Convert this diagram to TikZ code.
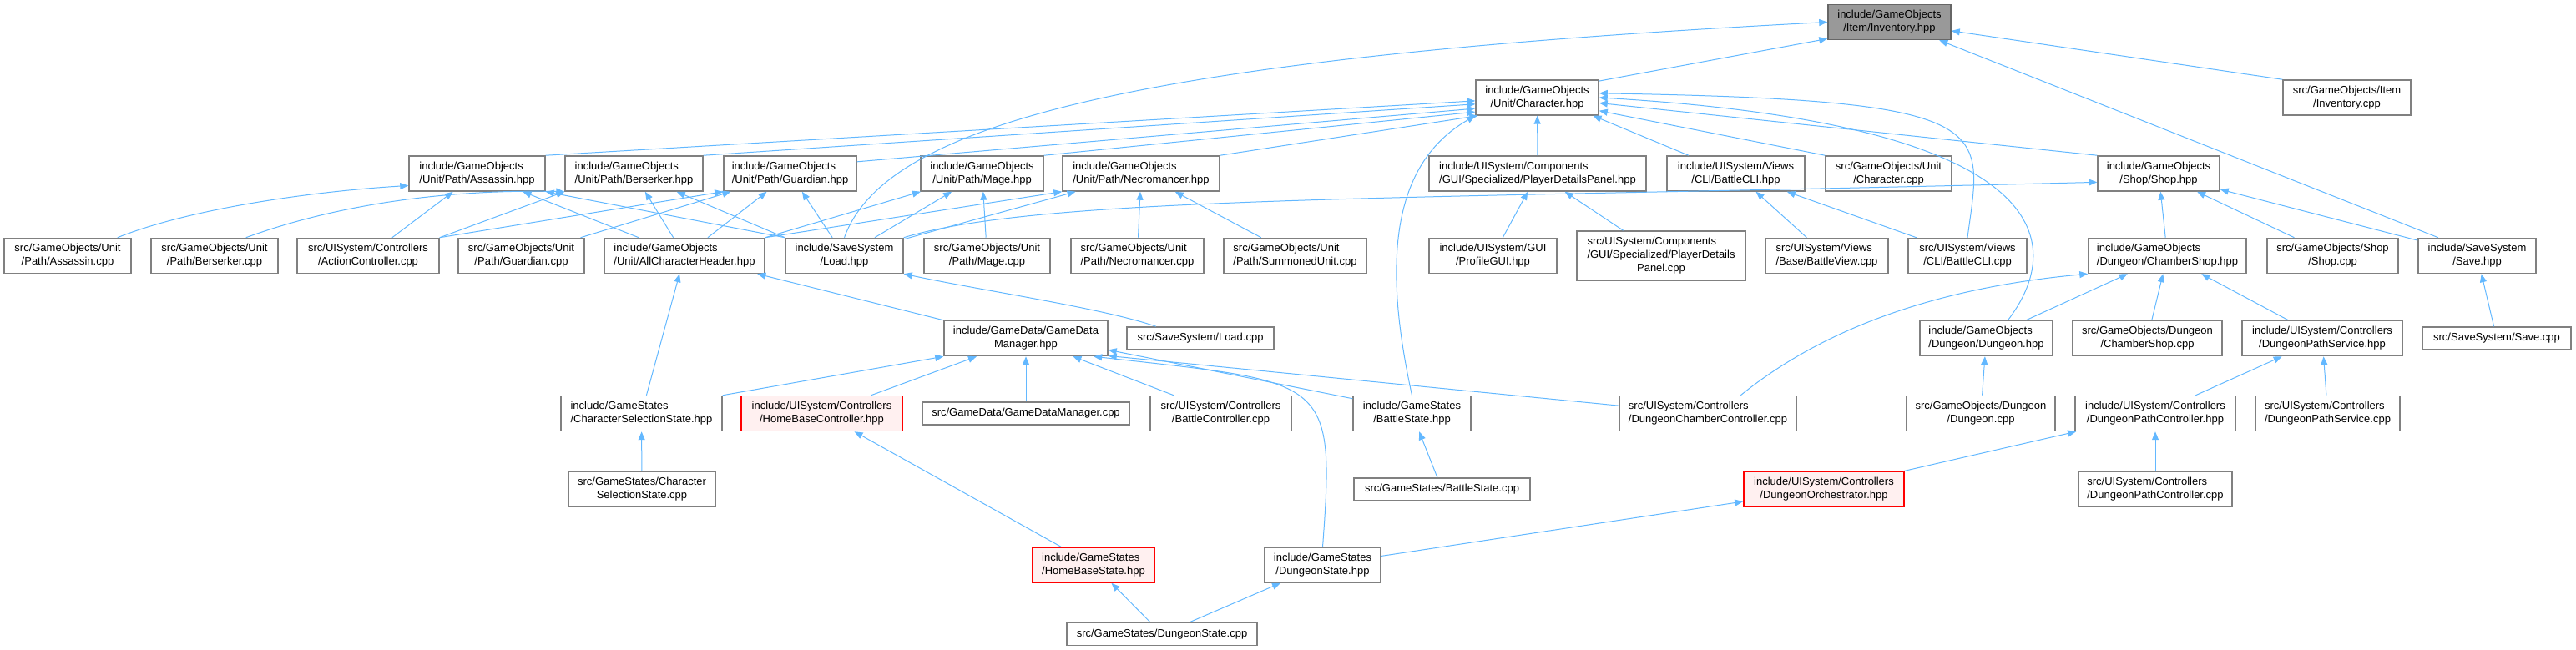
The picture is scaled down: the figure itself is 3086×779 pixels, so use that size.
\documentclass[tikz,border=0pt]{standalone}
\usepackage{fontspec}
\setmainfont{Liberation Sans}
\usetikzlibrary{arrows.meta}

\definecolor{incblue}{HTML}{63B8FF}
\definecolor{boxgray}{HTML}{808080}
\definecolor{rootgray}{HTML}{999999}
\definecolor{truncfill}{HTML}{FFF0F0}

% first lines left, last line centred
\newcommand{\two}[2]{\begin{tabular}{@{}c@{}}\multicolumn{1}{@{}l@{}}{#1}\\#2\end{tabular}}
\newcommand{\three}[3]{\begin{tabular}{@{}c@{}}\multicolumn{1}{@{}l@{}}{#1}\\\multicolumn{1}{@{}l@{}}{#2}\\#3\end{tabular}}

\tikzset{
  filebox/.style={draw=boxgray, line width=0.75pt, fill=white, inner sep=0pt,
    minimum height=21pt, font=\fontsize{6.5}{8}\selectfont},
  fw/.style={minimum width=#1*0.5pt},
  oneline/.style={minimum height=13.5pt},
  rootbox/.style={filebox, fill=rootgray, draw=black!60},
  redbox/.style={filebox, fill=truncfill, draw=red},
  inc/.style={draw=incblue, line width=0.5pt, -{Triangle[length=5pt,width=4pt]}, color=incblue}
}

\begin{document}
\begin{tikzpicture}[x=0.5pt, y=0.5pt]
  \useasboundingbox (0,0) rectangle (3086,779);

  % top
  \node[rootbox, fw=147] (inv) at (2263.5,752.5) {\two{include/GameObjects}{/Item/Inventory.hpp}};
  \node[filebox, fw=147] (chr) at (1841.5,662) {\two{include/GameObjects}{/Unit/Character.hpp}};
  \node[filebox, fw=153] (invcpp) at (2811.5,662) {\two{src/GameObjects/Item}{/Inventory.cpp}};

  % unit paths and friends
  \node[filebox, fw=163] (assh) at (571.5,571) {\two{include/GameObjects}{/Unit/Path/Assassin.hpp}};
  \node[filebox, fw=165] (bersh) at (759.5,571) {\two{include/GameObjects}{/Unit/Path/Berserker.hpp}};
  \node[filebox, fw=159] (guah) at (946.5,571) {\two{include/GameObjects}{/Unit/Path/Guardian.hpp}};
  \node[filebox, fw=147] (mageh) at (1176.5,571) {\two{include/GameObjects}{/Unit/Path/Mage.hpp}};
  \node[filebox, fw=188] (necroh) at (1367,571) {\two{include/GameObjects}{/Unit/Path/Necromancer.hpp}};
  \node[filebox, fw=260] (pdph) at (1842,571) {\two{include/UISystem/Components}{/GUI/Specialized/PlayerDetailsPanel.hpp}};
  \node[filebox, fw=165] (bclih) at (2079.5,571) {\two{include/UISystem/Views}{/CLI/BattleCLI.hpp}};
  \node[filebox, fw=151] (chrcpp) at (2262.5,571) {\two{src/GameObjects/Unit}{/Character.cpp}};
  \node[filebox, fw=146] (shoph) at (2586,571) {\two{include/GameObjects}{/Shop/Shop.hpp}};

  \node[filebox, fw=152] (asscpp) at (81,472.5) {\two{src/GameObjects/Unit}{/Path/Assassin.cpp}};
  \node[filebox, fw=152] (berscpp) at (257,472.5) {\two{src/GameObjects/Unit}{/Path/Berserker.cpp}};
  \node[filebox, fw=170] (actcpp) at (441,472.5) {\two{src/UISystem/Controllers}{/ActionController.cpp}};
  \node[filebox, fw=151] (guacpp) at (624.5,472.5) {\two{src/GameObjects/Unit}{/Path/Guardian.cpp}};
  \node[filebox, fw=192] (allch) at (820,472.5) {\two{include/GameObjects}{/Unit/AllCharacterHeader.hpp}};
  \node[filebox, fw=141] (loadh) at (1011.5,472.5) {\two{include/SaveSystem}{/Load.hpp}};
  \node[filebox, fw=151] (magecpp) at (1182.5,472.5) {\two{src/GameObjects/Unit}{/Path/Mage.cpp}};
  \node[filebox, fw=159] (necrocpp) at (1362.5,472.5) {\two{src/GameObjects/Unit}{/Path/Necromancer.cpp}};
  \node[filebox, fw=171] (sumcpp) at (1551.5,472.5) {\two{src/GameObjects/Unit}{/Path/SummonedUnit.cpp}};
  \node[filebox, fw=153] (profh) at (1788.5,472.5) {\two{include/UISystem/GUI}{/ProfileGUI.hpp}};
  \node[filebox, fw=202, minimum height=29.5pt] (pdpcpp) at (1990,472.5) {\three{src/UISystem/Components}{/GUI/Specialized/PlayerDetails}{Panel.cpp}};
  \node[filebox, fw=147] (bviewcpp) at (2188.5,472.5) {\two{src/UISystem/Views}{/Base/BattleView.cpp}};
  \node[filebox, fw=142] (bclicpp) at (2357,472.5) {\two{src/UISystem/Views}{/CLI/BattleCLI.cpp}};
  \node[filebox, fw=189] (chsh) at (2596.5,472.5) {\two{include/GameObjects}{/Dungeon/ChamberShop.hpp}};
  \node[filebox, fw=157] (shopcpp) at (2794.5,472.5) {\two{src/GameObjects/Shop}{/Shop.cpp}};
  \node[filebox, fw=141] (saveh) at (2967.5,472.5) {\two{include/SaveSystem}{/Save.hpp}};

  % data and dungeon
  \node[filebox, fw=196] (gdmh) at (1229,373.5) {\two{include/GameData/GameData}{Manager.hpp}};
  \node[filebox, fw=176, oneline] (loadcpp) at (1438,373.5) {src/SaveSystem/Load.cpp};
  \node[filebox, fw=159] (dungh) at (2379.5,373.5) {\two{include/GameObjects}{/Dungeon/Dungeon.hpp}};
  \node[filebox, fw=179] (chscpp) at (2572.5,373.5) {\two{src/GameObjects/Dungeon}{/ChamberShop.cpp}};
  \node[filebox, fw=192] (dpsh) at (2782,373.5) {\two{include/UISystem/Controllers}{/DungeonPathService.hpp}};
  \node[filebox, fw=178, oneline] (savecpp) at (2991,373.5) {src/SaveSystem/Save.cpp};

  \node[filebox, fw=193] (cssh) at (768.5,283.5) {\two{include/GameStates}{/CharacterSelectionState.hpp}};
  \node[redbox, fw=193] (hbch) at (984.5,283.5) {\two{include/UISystem/Controllers}{/HomeBaseController.hpp}};
  \node[filebox, fw=248, oneline] (gdmcpp) at (1229,283.5) {src/GameData/GameDataManager.cpp};
  \node[filebox, fw=169] (bctrlcpp) at (1462.5,283.5) {\two{src/UISystem/Controllers}{/BattleController.cpp}};
  \node[filebox, fw=141] (bsth) at (1691.5,283.5) {\two{include/GameStates}{/BattleState.hpp}};
  \node[filebox, fw=212] (dccc) at (2046,283.5) {\two{src/UISystem/Controllers}{/DungeonChamberController.cpp}};
  \node[filebox, fw=178] (dungcpp) at (2373,283.5) {\two{src/GameObjects/Dungeon}{/Dungeon.cpp}};
  \node[filebox, fw=192] (dpch) at (2582,283.5) {\two{include/UISystem/Controllers}{/DungeonPathController.hpp}};
  \node[filebox, fw=173] (dpscpp) at (2788.5,283.5) {\two{src/UISystem/Controllers}{/DungeonPathService.cpp}};

  \node[filebox, fw=176] (csscpp) at (769,192.5) {\two{src/GameStates/Character}{SelectionState.cpp}};
  \node[filebox, fw=211, oneline] (bstcpp) at (1727.5,192.5) {src/GameStates/BattleState.cpp};
  \node[redbox, fw=192] (dorch) at (2185,192.5) {\two{include/UISystem/Controllers}{/DungeonOrchestrator.hpp}};
  \node[filebox, fw=184] (dpccpp) at (2582,192.5) {\two{src/UISystem/Controllers}{/DungeonPathController.cpp}};

  \node[redbox, fw=146] (hbsh) at (1310,102) {\two{include/GameStates}{/HomeBaseState.hpp}};
  \node[filebox, fw=139] (dsth) at (1584.5,102) {\two{include/GameStates}{/DungeonState.hpp}};
  \node[filebox, fw=228, oneline] (dstcpp) at (1392,19) {src/GameStates/DungeonState.cpp};

  % includes of Inventory.hpp
  \draw[inc] (chr.15) -- (inv.195);
  \draw[inc] (loadh.north) .. controls (1060,629) and (1350,709) .. (inv.west);
  \draw[inc] (invcpp.north west) -- (inv.-8);
  \draw[inc] (saveh.155) -- (inv.-20);

  % includes of Character.hpp
  \draw[inc] (assh.north east) -- (chr.183);
  \draw[inc] (bersh.north east) -- (chr.186);
  \draw[inc] (guah.10) -- (chr.190);
  \draw[inc] (mageh.north east) -- (chr.193);
  \draw[inc] (necroh.north east) -- (chr.197);
  \draw[inc] (pdph) -- (chr);
  \draw[inc] (bclih.159) -- (chr.-18);
  \draw[inc] (chrcpp.north west) -- (chr.-12);
  \draw[inc] (shoph.north west) -- (chr.-5);
  \draw[inc] (bsth.north) .. controls (1660,449) and (1660,579) .. (chr.south west);
  \draw[inc] (bclicpp.north) .. controls (2375,629) and (2400,659) .. (chr.4);
  \draw[inc] (dungh.40) .. controls (2470,479) and (2480,629) .. (chr.east);

  % unit paths
  \draw[inc] (asscpp.20) .. controls (230,530) and (380,550) .. (assh.190);
  \draw[inc] (actcpp) -- (assh);
  \draw[inc] (allch) -- (assh);
  \draw[inc] (loadh.north west) -- (assh.south east);
  \draw[inc] (berscpp.30) .. controls (420,540) and (560,552) .. (bersh.south west);
  \draw[inc] (actcpp.north east) -- (bersh.south west);
  \draw[inc] (allch) -- (bersh);
  \draw[inc] (loadh.north west) -- (bersh);
  \draw[inc] (guacpp) -- (guah);
  \draw[inc] (actcpp.north east) -- (guah.south west);
  \draw[inc] (allch) -- (guah);
  \draw[inc] (loadh) -- (guah);
  \draw[inc] (magecpp) -- (mageh);
  \draw[inc] (allch.north east) -- (mageh);
  \draw[inc] (loadh) -- (mageh);
  \draw[inc] (necrocpp) -- (necroh);
  \draw[inc] (sumcpp) -- (necroh);
  \draw[inc] (allch.north east) -- (necroh.south west);
  \draw[inc] (loadh) -- (necroh);

  % shop, views, gui
  \draw[inc] (loadh.north east) .. controls (1250,545) and (1700,540) .. (shoph.188);
  \draw[inc] (profh) -- (pdph);
  \draw[inc] (pdpcpp) -- (pdph);
  \draw[inc] (bviewcpp) -- (bclih);
  \draw[inc] (bclicpp) -- (bclih);
  \draw[inc] (chsh) -- (shoph);
  \draw[inc] (shopcpp) -- (shoph);
  \draw[inc] (saveh) -- (shoph);
  \draw[inc] (savecpp) -- (saveh);

  % game data
  \draw[inc] (gdmh.north west) -- (allch);
  \draw[inc] (cssh) -- (allch);
  \draw[inc] (loadcpp.165) .. controls (1320,410) and (1180,430) .. (loadh.south east);
  \draw[inc] (cssh.north east) -- (gdmh.south west);
  \draw[inc] (hbch) -- (gdmh);
  \draw[inc] (gdmcpp) -- (gdmh);
  \draw[inc] (bctrlcpp) -- (gdmh);
  \draw[inc] (bsth.166) -- (gdmh.-8);
  \draw[inc] (dccc.175) -- (gdmh.-12);
  \draw[inc] (dsth.north) .. controls (1600,330) and (1590,320) .. (gdmh.-15);

  % states and dungeon
  \draw[inc] (csscpp) -- (cssh);
  \draw[inc] (hbsh) -- (hbch);
  \draw[inc] (bstcpp) -- (bsth);
  \draw[inc] (dccc.29) .. controls (2190,390) and (2330,435) .. (chsh.south west);
  \draw[inc] (dungh) -- (chsh);
  \draw[inc] (chscpp) -- (chsh);
  \draw[inc] (dpsh) -- (chsh);
  \draw[inc] (dungcpp) -- (dungh);
  \draw[inc] (dpch) -- (dpsh);
  \draw[inc] (dpscpp) -- (dpsh);
  \draw[inc] (dorch) -- (dpch);
  \draw[inc] (dpccpp) -- (dpch);
  \draw[inc] (dsth) -- (dorch);
  \draw[inc] (dstcpp) -- (hbsh);
  \draw[inc] (dstcpp) -- (dsth);
\end{tikzpicture}
\end{document}
